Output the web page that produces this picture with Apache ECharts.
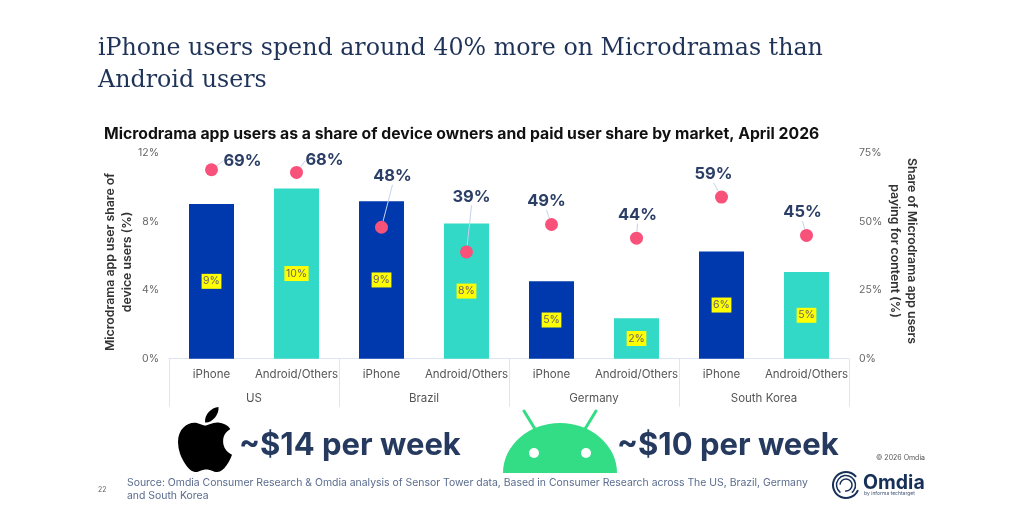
<!DOCTYPE html>
<html>
<head>
<meta charset="utf-8">
<script src="https://cdn.jsdelivr.net/npm/echarts@6/dist/echarts.min.js"></script>
<style>html,body{margin:0;padding:0;background:#fff}#c{width:1024px;height:512px}</style>
</head>
<body>
<div id="c"></div>
<script>
const devices = ['iPhone','Android/Others','iPhone','Android/Others','iPhone','Android/Others','iPhone','Android/Others'];
const markets = ['US','Brazil','Germany','South Korea'];
const userShare = [9.04,9.95,9.2,7.9,4.52,2.36,6.27,5.07];
const paidShare = [69,68,48,39,49,44,59,45];
const labelShift = [[31,-9],[28,-12],[11,-51],[5,-55],[-5,-23],[1,-23],[-8,-23],[-4,-23]];

const BLUE='#0039AE', TEAL='#32D9C6', NAVY='#2B3E66', SANS='Inter';
const applePath='M318.7 268.7c-.2-36.7 16.4-64.4 50-84.8-18.8-26.9-47.2-41.7-84.7-44.6-35.5-2.8-74.3 20.7-88.5 20.7-15 0-49.4-19.7-76.4-19.7C63.3 141.2 4 184.8 4 273.5q0 39.3 14.4 81.2c12.8 36.7 59 126.7 107.2 125.2 25.2-.6 43-17.9 75.8-17.9 31.8 0 48.3 17.9 76.4 17.9 48.6-.7 90.4-82.5 102.6-119.3-65.2-30.7-61.7-90-61.7-91.9zm-56.6-164.2c27.3-32.4 24.8-61.9 24-72.5-24.1 1.4-52 16.4-67.9 34.9-17.5 19.8-27.8 44.3-25.6 71.9 26.1 2 49.9-11.4 69.5-34.3z';
const domePath='M0 50A57 50 0 0 1 114 50Z';

function txt(text,left,top,size,color,weight,family){
  return {text,left,top,textStyle:{fontSize:size,color,fontWeight:weight||'normal',fontFamily:family||SANS},padding:0};
}
const titles=[
  txt('iPhone users spend around 40% more on Microdramas than',98,37,23.75,'#1F3358','normal','DejaVu Serif'),
  txt('Android users',98,69,23.75,'#1F3358','normal','DejaVu Serif'),
  txt('Microdrama app users as a share of device owners and paid user share by market, April 2026',104,126,15.75,'#111','700'),
  txt('~$14 per week',239,430,31,'#263A60','700'),
  txt('~$10 per week',617,430,31,'#263A60','700'),
  txt('© 2026 Omdia',876,454,7,'#555'),
  txt('22',98,486,7,'#666'),
  txt('Source: Omdia Consumer Research & Omdia analysis of Sensor Tower data, Based in Consumer Research across The US, Brazil, Germany',127,478,10.43,'#5A6C8E'),
  txt('and South Korea',127,491,10.43,'#5A6C8E'),
  txt('Omdia',863,473,19.5,'#17305A','700'),
  txt('by informa techtarget',864,491,5,'#3F5274')
];
const ring=(r,a,b,w)=>({type:'arc',shape:{cx:846,cy:485,r:r,startAngle:a,endAngle:b},style:{stroke:'#17305A',lineWidth:w,fill:null}});
const graphics=[
  {type:'line',shape:{x1:535,y1:429,x2:524,y2:411},style:{stroke:'#33DD85',lineWidth:3,lineCap:'round'}},
  {type:'line',shape:{x1:585,y1:429,x2:596,y2:411},style:{stroke:'#33DD85',lineWidth:3,lineCap:'round'}},
  ring(13,0.4,5.6,2), ring(9.5,2.2,7.2,1.5), ring(6,3.2,8,1.5)
];

const chart=echarts.init(document.getElementById('c'),null,{renderer:'canvas'});
chart.setOption({
  animation:false,
  backgroundColor:'#fff',
  title:titles,
  graphic:graphics,
  grid:{left:169,top:153.3,width:680,height:205.4,containLabel:false},
  xAxis:[
    {type:'category',data:devices,position:'bottom',
      axisLine:{show:true,lineStyle:{color:'#DDE5F3',width:1}},axisTick:{show:false},
      axisLabel:{interval:0,margin:10,fontSize:11.5,color:'#555',fontFamily:SANS}},
    {type:'category',data:markets,position:'bottom',
      axisLine:{show:false},axisTick:{show:true,length:48,lineStyle:{color:'#DDE5F3',width:1}},
      axisLabel:{interval:0,margin:34,fontSize:11.5,color:'#555',fontFamily:SANS}}
  ],
  yAxis:[
    {type:'value',min:0,max:12,interval:4,splitLine:{show:false},axisLine:{show:false},axisTick:{show:false},
      axisLabel:{formatter:'{value}%',fontSize:10.5,color:'#666',margin:10,fontFamily:SANS},
      name:'Microdrama app user share of\ndevice users (%)',nameLocation:'middle',nameGap:33,nameRotate:90,nameMoveOverlap:false,
      nameTextStyle:{fontSize:12.3,fontWeight:600,color:'#333',fontFamily:SANS,lineHeight:17,padding:[0,12,0,0]}},
    {type:'value',min:0,max:75,interval:25,position:'right',splitLine:{show:false},axisLine:{show:false},axisTick:{show:false},
      axisLabel:{formatter:'{value}%',fontSize:10.5,color:'#666',margin:10,fontFamily:SANS},
      name:'Share of Microdrama app users\npaying for content (%)',nameLocation:'middle',nameGap:37.5,nameRotate:-90,nameMoveOverlap:false,
      nameTextStyle:{fontSize:12.3,fontWeight:600,color:'#333',fontFamily:SANS,lineHeight:17,padding:[0,10,0,0]}}
  ],
  series:[
    {type:'bar',name:'Microdrama app user share',xAxisIndex:0,yAxisIndex:0,barWidth:45,
      data:userShare.map((v,i)=>({value:v,itemStyle:{color:i%2?TEAL:BLUE}})),
      label:{show:true,position:'inside',formatter:p=>Math.round(p.value)+'%',backgroundColor:'#FFFF00',color:'#666',
        fontSize:10.5,padding:[2,1.5],fontFamily:SANS}},
    {type:'line',name:'Paid share',xAxisIndex:0,yAxisIndex:1,data:paidShare,symbol:'circle',symbolSize:13,
      lineStyle:{width:0,opacity:0},itemStyle:{color:'#F8517A'},z:5,
      label:{show:true,position:'inside',formatter:'{c}%',fontSize:16.5,fontWeight:700,color:NAVY,fontFamily:SANS},
      labelLine:{show:true,smooth:false,lineStyle:{color:'#C5D2EA',width:1}},
      labelLayout:p=>({dx:labelShift[p.dataIndex][0],dy:labelShift[p.dataIndex][1]})},
    {type:'custom',coordinateSystem:'none',silent:true,data:[0,1],z:1,
      renderItem:(params)=>{
        if(params.dataIndex===0){
          return {type:'path',shape:{pathData:applePath,layout:'cover',x:178,y:407,width:54,height:65},style:{fill:'#000'}};
        }
        return {type:'group',children:[
          {type:'path',shape:{pathData:domePath,layout:'cover',x:503,y:423,width:114,height:50},style:{fill:'#33DD85'}},
          {type:'circle',shape:{cx:534,cy:453,r:5},style:{fill:'#fff'}},
          {type:'circle',shape:{cx:586,cy:453,r:5},style:{fill:'#fff'}}
        ]};
      }}
  ]
});
</script>
</body>
</html>
